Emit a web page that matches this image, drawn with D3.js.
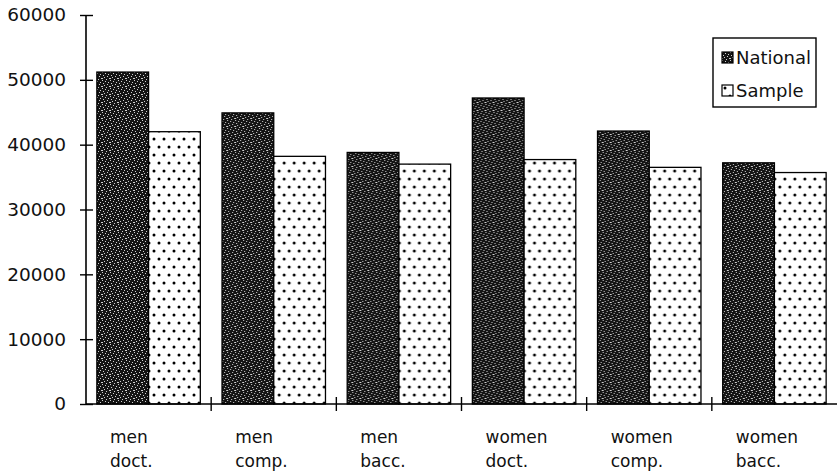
<!DOCTYPE html>
<html>
<head>
<meta charset="utf-8">
<script src="https://cdn.jsdelivr.net/npm/d3@7"></script>
<style>
  body { margin: 0; background: #fff; }
  svg { display: block; font-family: "DejaVu Sans", sans-serif; }
</style>
</head>
<body>
<svg width="839" height="475"></svg>
<script>
// data
let groups = ["men", "men", "men", "women", "women", "women"];
let degrees = ["doct.", "comp.", "bacc.", "doct.", "comp.", "bacc."];
let series = ["National", "Sample"];
let national = [51200, 44900, 38800, 47200, 42100, 37200];
let sample = [42000, 38200, 37000, 37700, 36500, 35700];
let yTicks = [0, 10000, 20000, 30000, 40000, 50000, 60000];

let categories = groups.map((g, i) => g + " " + degrees[i]);
let rows = categories.map((c, i) => ({cat: c, National: national[i], Sample: sample[i]}));

let svg = d3.select("svg");
let plotLeft = 86, plotRight = 837, plotTop = 15, plotBottom = 404;

let x0 = d3.scaleBand().domain(categories).range([plotLeft, plotRight]).paddingInner(0).paddingOuter(0);
let x1 = d3.scaleBand().domain(series).range([0, x0.bandwidth()]).paddingInner(0).paddingOuter(0.21);
let yScale = d3.scaleLinear().domain([0, 60000]).range([plotBottom, plotTop]);

// fill patterns
let defs = svg.append("defs");
let dark = defs.append("pattern").attr("id", "dark")
  .attr("patternUnits", "userSpaceOnUse").attr("width", 8).attr("height", 8);
dark.append("rect").attr("width", 8).attr("height", 8).attr("fill", "#141414");
[[0,0],[3,1],[6,2],[1,3],[5,4],[2,5],[7,6],[4,7],[0,6]].forEach(p => {
  dark.append("rect").attr("x", p[0]).attr("y", p[1]).attr("width", 1).attr("height", 1).attr("fill", "#cfcfcf");
});

let dots = defs.append("pattern").attr("id", "dots")
  .attr("patternUnits", "userSpaceOnUse").attr("width", 10).attr("height", 16);
dots.append("rect").attr("width", 10).attr("height", 16).attr("fill", "#fff");
dots.append("circle").attr("cx", 3).attr("cy", 3).attr("r", 1.5).attr("fill", "#000");
dots.append("circle").attr("cx", 8).attr("cy", 11).attr("r", 1.5).attr("fill", "#000");

let fillScale = d3.scaleOrdinal().domain(series).range(["url(#dark)", "url(#dots)"]);

// bars
svg.selectAll("g.bar")
  .data(rows)
  .join("g")
  .attr("class", "bar")
  .attr("transform", d => `translate(${x0(d.cat)},0)`)
  .each(function(d) {
    d3.select(this).selectAll("rect")
      .data(series.map(k => ({key: k, value: d[k]})))
      .join("rect")
      .attr("x", p => x1(p.key))
      .attr("y", p => yScale(p.value))
      .attr("width", x1.bandwidth())
      .attr("height", p => yScale(0) - yScale(p.value))
      .style("fill", p => fillScale(p.key))
      .style("stroke", "#000")
      .style("stroke-width", 1.3);
  });

// y axis
let yAxis = svg.append("g")
  .attr("transform", `translate(${plotLeft},0)`)
  .call(d3.axisLeft(yScale).tickValues(yTicks).tickFormat(d3.format("d")).tickSize(6).tickPadding(14));
yAxis.select(".domain").attr("d", `M0,${plotTop}V${plotBottom}`).attr("stroke-width", 1.6);
yAxis.selectAll(".tick line").attr("x1", -6).attr("x2", 7).attr("stroke-width", 1.4);
yAxis.selectAll(".tick text")
  .attr("font-size", "18.5px").attr("font-family", "DejaVu Sans, sans-serif").attr("fill", "#111");

// x axis line and boundary ticks
svg.append("line")
  .attr("x1", plotLeft).attr("x2", plotRight).attr("y1", yScale(0)).attr("y2", yScale(0))
  .attr("stroke", "#000").attr("stroke-width", 1.6);
svg.selectAll("line.xtick")
  .data(categories.slice(0, -1))
  .join("line")
  .attr("class", "xtick")
  .attr("x1", d => x0(d) + x0.bandwidth()).attr("x2", d => x0(d) + x0.bandwidth())
  .attr("y1", yScale(0) - 7).attr("y2", yScale(0) + 7)
  .attr("stroke", "#000").attr("stroke-width", 1.4);

// category labels (two lines)
let labels = svg.selectAll("text.cat")
  .data(categories)
  .join("text")
  .attr("class", "cat")
  .attr("font-size", "17px")
  .attr("fill", "#111");
labels.append("tspan")
  .attr("x", d => x0(d) + 24).attr("y", 443)
  .text((d, i) => groups[i]);
labels.append("tspan")
  .attr("x", d => x0(d) + 24).attr("y", 467)
  .text((d, i) => degrees[i]);

// legend
let legend = svg.append("g");
legend.append("rect")
  .attr("x", 713).attr("y", 38).attr("width", 103).attr("height", 69)
  .attr("fill", "#fff").attr("stroke", "#000").attr("stroke-width", 1.4);
let items = legend.selectAll("g.item")
  .data(series)
  .join("g")
  .attr("class", "item")
  .attr("transform", (d, i) => `translate(722,${52 + i * 33})`);
items.append("rect")
  .attr("width", 11).attr("height", 11)
  .style("fill", d => fillScale(d))
  .style("stroke", "#000").style("stroke-width", 1.2);
items.append("text")
  .attr("x", 14).attr("y", 12)
  .attr("font-size", "18px").attr("fill", "#111")
  .text(d => d);
</script>
</body>
</html>
